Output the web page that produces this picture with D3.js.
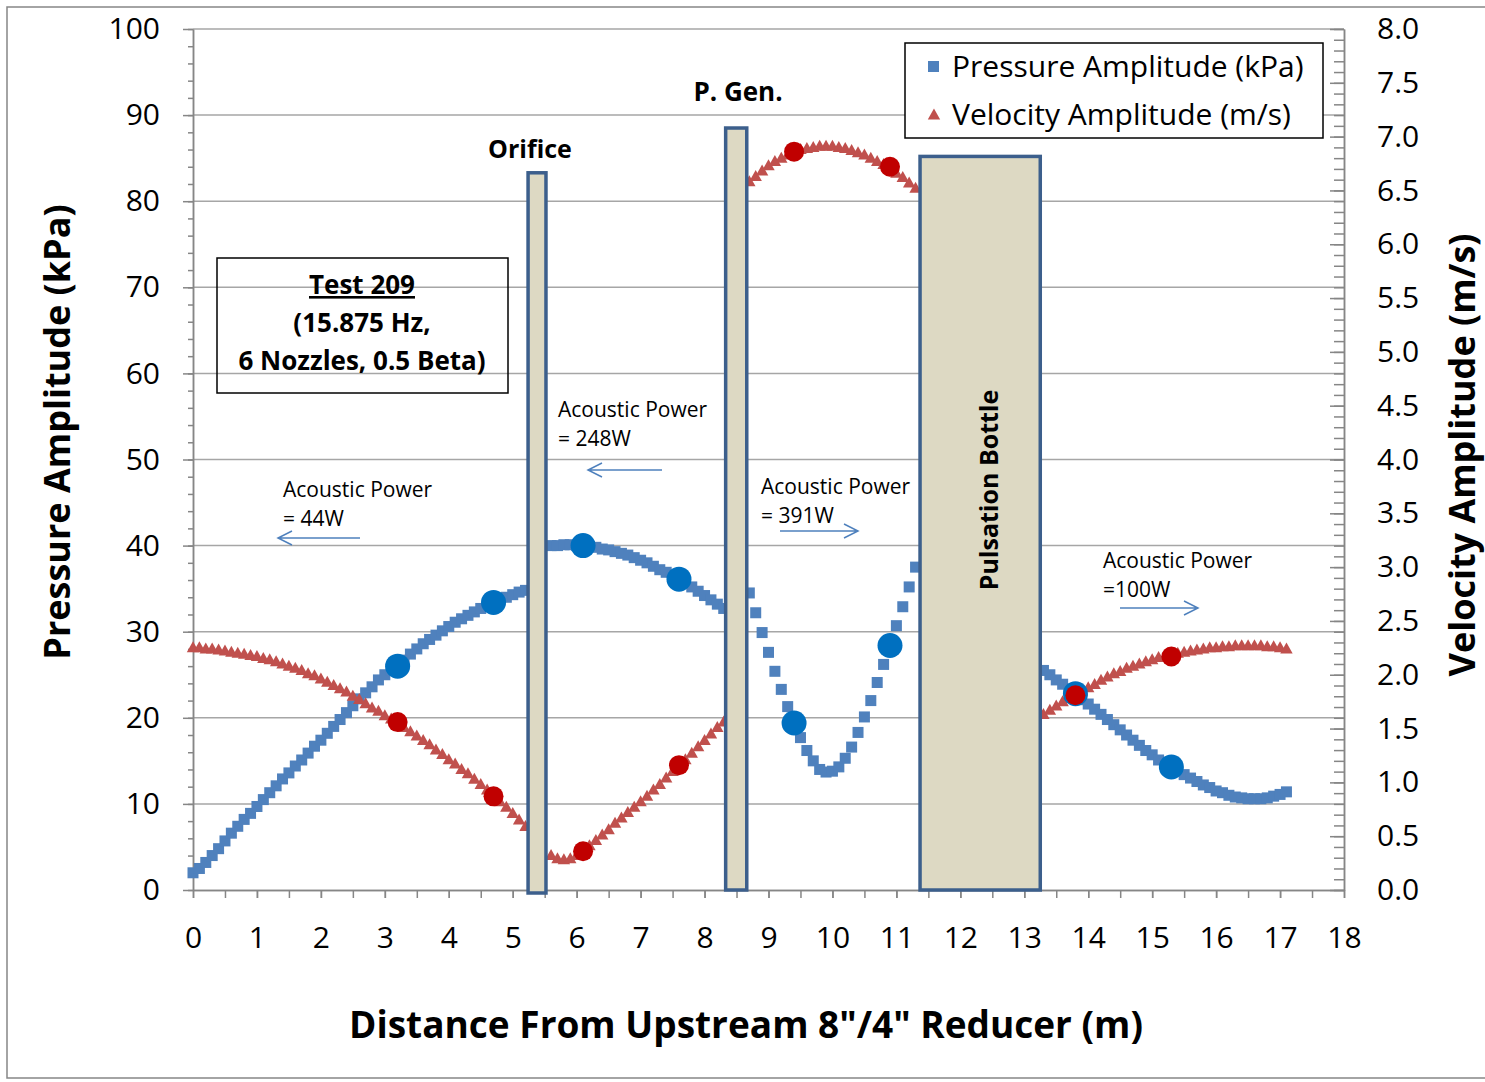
<!DOCTYPE html>
<html>
<head>
<meta charset="utf-8">
<script src="https://cdn.jsdelivr.net/npm/d3@7"></script>
<style>
  body { margin: 0; background: #fff; }
  svg { display: block; font-family: "Open Sans", sans-serif; }
  .axis path, .axis line { stroke: #868686; stroke-width: 1.5; }
  .axis text { font-size: 30px; fill: #000; font-family: "Open Sans", sans-serif; }
  .grid line { stroke: #a6a6a6; stroke-width: 1.5; }
  .note { font-size: 21px; fill: #000; }
  .bold { font-weight: bold; }
</style>
</head>
<body>
<svg id="chart" width="1485" height="1082"></svg>
<script>
/* ------------------------------- data -------------------------------- */
// distance (m) of the first sample in each pipe run, samples every 0.1 m
const segStart = [0.0, 5.6, 8.7, 13.3];

// pressure amplitude (kPa) for each pipe run
const pressureSeg = [
  [2.0,2.5,3.2,4.0,4.8,5.7,6.6,7.4,8.2,8.9,
   9.7,10.5,11.3,12.1,12.9,13.6,14.4,15.1,15.9,16.7,
   17.4,18.2,19.0,19.8,20.6,21.4,22.2,22.9,23.6,24.4,
   25.0,25.6,26.1,26.7,27.4,28.0,28.6,29.1,29.6,30.1,
   30.6,31.1,31.5,31.9,32.3,32.7,33.0,33.4,33.7,34.0,
   34.3,34.6,34.8],
  [40.0,40.0,40.1,40.1,40.0,40.0,39.9,39.8,39.6,39.5,
   39.3,39.1,38.9,38.6,38.3,38.0,37.6,37.2,36.9,36.5,
   36.1,35.7,35.2,34.7,34.2,33.7,33.2,32.7],
  [34.5,32.2,29.9,27.6,25.4,23.3,21.3,19.4,17.7,16.2,
   15.0,14.0,13.7,13.8,14.3,15.3,16.6,18.3,20.1,22.0,
   24.1,26.2,28.4,30.7,32.9,35.2,37.5],
  [25.5,25.0,24.4,23.9,23.3,22.7,22.1,21.6,21.0,20.4,
   19.8,19.2,18.6,18.0,17.4,16.8,16.2,15.7,15.1,14.6,
   14.2,13.8,13.4,13.0,12.6,12.2,11.9,11.5,11.3,11.0,
   10.8,10.7,10.6,10.6,10.6,10.7,10.9,11.1,11.4]
];

// velocity amplitude (m/s) for each pipe run
const velocitySeg = [
  [2.25,2.25,2.24,2.24,2.23,2.22,2.21,2.20,2.19,2.18,
   2.17,2.15,2.14,2.12,2.10,2.08,2.06,2.04,2.01,1.99,
   1.96,1.93,1.90,1.87,1.84,1.80,1.77,1.73,1.69,1.66,
   1.62,1.59,1.55,1.51,1.47,1.43,1.39,1.35,1.30,1.26,
   1.21,1.17,1.12,1.08,1.03,0.98,0.93,0.88,0.82,0.77,
   0.71,0.65,0.59],
  [0.32,0.29,0.28,0.29,0.32,0.36,0.41,0.46,0.51,0.56,
   0.62,0.67,0.72,0.77,0.82,0.87,0.93,0.98,1.04,1.10,
   1.15,1.21,1.27,1.33,1.39,1.45,1.51,1.56],
  [6.58,6.63,6.68,6.73,6.77,6.80,6.83,6.86,6.88,6.89,
   6.90,6.91,6.91,6.91,6.90,6.89,6.87,6.85,6.83,6.80,
   6.77,6.74,6.70,6.66,6.62,6.57,6.52],
  [1.63,1.67,1.71,1.75,1.78,1.81,1.85,1.88,1.91,1.95,
   1.98,2.01,2.03,2.06,2.08,2.10,2.12,2.14,2.16,2.17,
   2.18,2.20,2.21,2.22,2.23,2.24,2.25,2.25,2.26,2.26,
   2.27,2.27,2.27,2.27,2.27,2.26,2.26,2.25,2.24]
];

// measured points (transducer locations)
const measDist     = [3.2, 4.7, 6.1, 7.6, 9.4, 10.9, 13.8, 15.3];
const measPressure = [26.0, 33.4, 40.0, 36.1, 19.4, 28.4, 22.8, 14.3];
const measVelocity = [1.56, 0.87, 0.36, 1.16, 6.86, 6.72, 1.81, 2.17];

// piping components drawn over the chart (m, m, kPa)
const compName = ['Orifice', 'P. Gen.', 'Pulsation Bottle'];
const compX0   = [5.24, 8.33, 11.37];
const compX1   = [5.52, 8.66, 13.25];
const compTop  = [83.3, 88.5, 85.2];

const powerLabel = ['= 44W', '= 248W', '= 391W', '=100W'];
const seriesName = ['Pressure Amplitude (kPa)', 'Velocity Amplitude (m/s)'];

/* ------------------------------- setup ------------------------------- */
const svg = d3.select('#chart');
const PL = 193, PR = 1344, PT = 29, PB = 890;

const x  = d3.scaleLinear().domain([0, 18]).range([PL, PR]);
const y  = d3.scaleLinear().domain([0, 100]).range([PB, PT]);
const y2 = d3.scaleLinear().domain([0, 8]).range([PB, PT]);

const BLUE = '#4f81bd', RED = '#c0504d', DOT_BLUE = '#0070c0', DOT_RED = '#c00000';

// outer chart frame
svg.append('rect')
  .attr('x', 7).attr('y', 7).attr('width', 1490).attr('height', 1071)
  .attr('fill', 'none').attr('stroke', '#868686').attr('stroke-width', 1.5);

// gridlines
svg.append('g').attr('class', 'grid')
  .selectAll('line').data(d3.range(10, 101, 10)).join('line')
  .attr('x1', PL).attr('x2', PR)
  .attr('y1', d => y(d)).attr('y2', d => y(d));

/* ------------------------------- axes -------------------------------- */
svg.append('g').attr('class', 'axis')
  .attr('transform', `translate(${PL},0)`)
  .call(d3.axisLeft(y).tickValues(d3.range(0, 101, 2)).tickSize(5).tickFormat('').tickSizeOuter(0));
svg.append('g').attr('class', 'axis')
  .attr('transform', `translate(${PL},0)`)
  .call(d3.axisLeft(y).tickValues(d3.range(0, 101, 10)).tickSize(10).tickPadding(23).tickSizeOuter(0));

svg.append('g').attr('class', 'axis')
  .attr('transform', `translate(${PR},0)`)
  .call(d3.axisRight(y2).tickValues(d3.range(0, 81, 1).map(d => d / 10)).tickSize(-10).tickFormat('').tickSizeOuter(0));
svg.append('g').attr('class', 'axis')
  .attr('transform', `translate(${PR},0)`)
  .call(d3.axisRight(y2).tickValues(d3.range(0, 17, 1).map(d => d / 2)).tickSize(-14).tickPadding(33)
    .tickFormat(d3.format('.1f')).tickSizeOuter(0));

svg.append('g').attr('class', 'axis')
  .attr('transform', `translate(0,${PB})`)
  .call(d3.axisBottom(x).tickValues(d3.range(0, 37, 1).map(d => d / 2)).tickSize(8).tickFormat('').tickSizeOuter(0));
svg.append('g').attr('class', 'axis')
  .attr('transform', `translate(0,${PB})`)
  .call(d3.axisBottom(x).tickValues(d3.range(0, 19, 1)).tickSize(8).tickSizeOuter(0))
  .selectAll('text').attr('dy', null).attr('y', 58);

// axis titles
svg.append('text').attr('class', 'bold')
  .attr('transform', 'translate(70,432) rotate(-90)')
  .attr('text-anchor', 'middle').attr('font-size', 36)
  .text(seriesName[0]);
svg.append('text').attr('class', 'bold')
  .attr('transform', 'translate(1475,455) rotate(-90)')
  .attr('text-anchor', 'middle').attr('font-size', 36)
  .text(seriesName[1]);
svg.append('text').attr('class', 'bold')
  .attr('x', 746).attr('y', 1038)
  .attr('text-anchor', 'middle').attr('font-size', 37)
  .text('Distance From Upstream 8"/4" Reducer (m)');

/* ------------------------------- series ------------------------------ */
const pts = (vals) => vals.flatMap((seg, i) =>
  seg.map((v, j) => ({ d: +(segStart[i] + j * 0.1).toFixed(1), v })));

const pressurePts = pts(pressureSeg);
const velocityPts = pts(velocitySeg);

const SQ = 11;
svg.append('g').selectAll('rect').data(pressurePts).join('rect')
  .attr('x', p => x(p.d) - SQ / 2).attr('y', p => y(p.v) - SQ / 2)
  .attr('width', SQ).attr('height', SQ).attr('fill', BLUE);

const tri = 'M0,-6.5L6.2,4.5L-6.2,4.5Z';
svg.append('g').selectAll('path').data(velocityPts).join('path')
  .attr('d', tri)
  .attr('transform', p => `translate(${x(p.d)},${y2(p.v)})`)
  .attr('fill', RED);

svg.append('g').selectAll('circle').data(measDist).join('circle')
  .attr('cx', d => x(d)).attr('cy', (d, i) => y(measPressure[i]))
  .attr('r', 12.5).attr('fill', DOT_BLUE);
svg.append('g').selectAll('circle').data(measDist).join('circle')
  .attr('cx', d => x(d)).attr('cy', (d, i) => y2(measVelocity[i]))
  .attr('r', 10).attr('fill', DOT_RED);

/* ------------------------------- components -------------------------- */
svg.append('g').selectAll('rect').data(compName).join('rect')
  .attr('x', (d, i) => x(compX0[i]))
  .attr('y', (d, i) => y(compTop[i]))
  .attr('width', (d, i) => x(compX1[i]) - x(compX0[i]))
  .attr('height', (d, i) => y(0) - y(compTop[i]) + (i === 0 ? 3 : 0))
  .attr('fill', '#ddd9c3').attr('stroke', '#3c5f8c').attr('stroke-width', 3.5);

svg.append('text').attr('class', 'bold').attr('font-size', 25)
  .attr('x', 530).attr('y', 158).attr('text-anchor', 'middle').text(compName[0]);
svg.append('text').attr('class', 'bold').attr('font-size', 26)
  .attr('x', 738).attr('y', 101).attr('text-anchor', 'middle').text(compName[1]);
svg.append('text').attr('class', 'bold').attr('font-size', 25)
  .attr('transform', 'translate(998,490) rotate(-90)')
  .attr('text-anchor', 'middle').text(compName[2]);

/* ------------------------------- notes ------------------------------- */
const noteXY = [[283, 497], [558, 417], [761, 494], [1103, 568]];
const arrows = [[360, 278, 538], [662, 588, 470], [780, 858, 531], [1120, 1198, 608]];

noteXY.forEach(([nx, ny], i) => {
  const t = svg.append('text').attr('class', 'note').attr('x', nx).attr('y', ny);
  t.append('tspan').attr('x', nx).text('Acoustic Power');
  t.append('tspan').attr('x', nx).attr('dy', 29).text(powerLabel[i]);
});

arrows.forEach(([a, b, ay]) => {
  const dir = b > a ? -1 : 1;
  svg.append('path')
    .attr('d', `M${a},${ay}L${b},${ay}M${b + dir * 14},${ay - 7}L${b},${ay}L${b + dir * 14},${ay + 7}`)
    .attr('fill', 'none').attr('stroke', BLUE).attr('stroke-width', 1.5);
});

// test description box
svg.append('rect')
  .attr('x', 217).attr('y', 258).attr('width', 291).attr('height', 135)
  .attr('fill', 'none').attr('stroke', '#000').attr('stroke-width', 1.5);
const box = svg.append('text').attr('class', 'bold').attr('font-size', 26).attr('text-anchor', 'middle');
box.append('tspan').attr('x', 362).attr('y', 294).attr('text-decoration', 'underline').text('Test 209');
box.append('tspan').attr('x', 362).attr('y', 332).text('(15.875 Hz,');
box.append('tspan').attr('x', 362).attr('y', 370).text('6 Nozzles, 0.5 Beta)');

/* ------------------------------- legend ------------------------------ */
const lg = svg.append('g');
lg.append('rect')
  .attr('x', 905).attr('y', 43).attr('width', 418).attr('height', 95)
  .attr('fill', '#fff').attr('stroke', '#000').attr('stroke-width', 1.5);
lg.append('rect').attr('x', 928).attr('y', 61).attr('width', 11).attr('height', 11).attr('fill', BLUE);
lg.append('path').attr('d', tri).attr('transform', 'translate(934,115)').attr('fill', RED);
lg.selectAll('text.lg').data(seriesName).join('text')
  .attr('x', 952).attr('y', (d, i) => 77 + i * 48)
  .attr('font-size', 30).text(d => d);
</script>
</body>
</html>
